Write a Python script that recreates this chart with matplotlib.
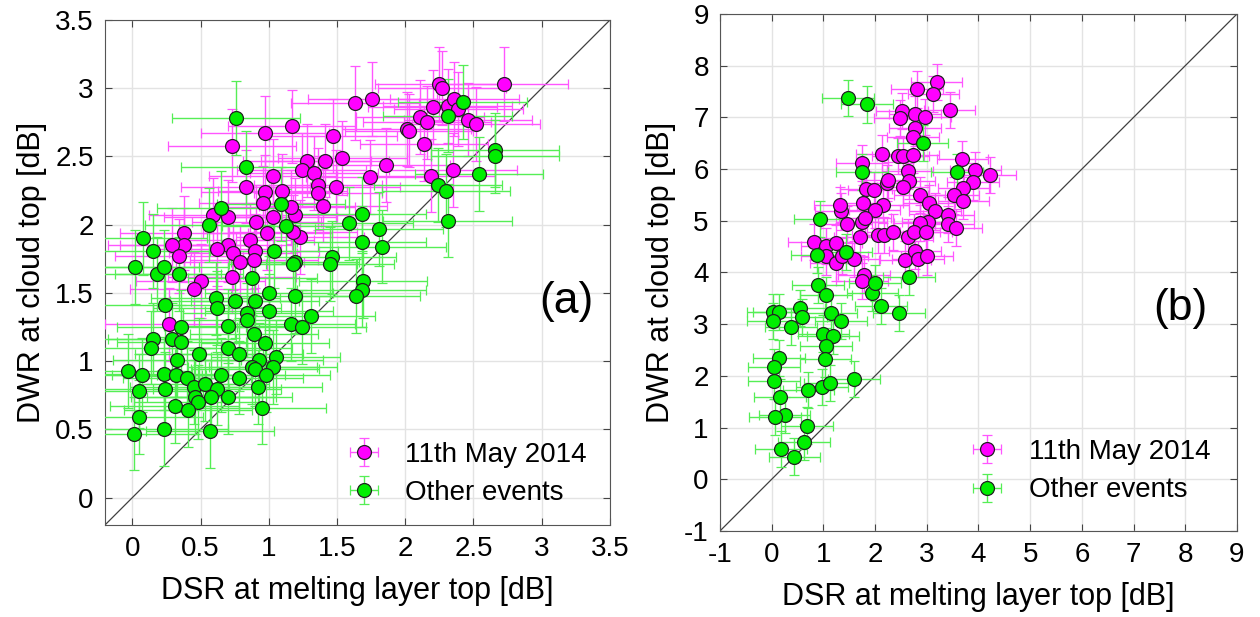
import numpy as np
import matplotlib.pyplot as plt

plt.rcParams['font.family'] = ['Liberation Sans', 'DejaVu Sans']

# panel (a): DSR vs DWR
a_may_x = [2.72, 2.25, 2.27, 1.63, 1.76, 2.20, 2.31, 2.36, 2.39, 2.46, 2.52, 2.11, 2.16, 2.01, 2.03,
           2.14, 1.86, 1.74, 2.19, 2.35, 1.54,
           0.73, 0.97, 1.17, 1.47, 1.41, 1.28, 1.24, 1.33, 1.36, 1.36, 1.49, 1.40, 1.03, 0.83, 0.97,
           1.10, 0.96, 1.03, 1.19, 1.16, 0.91, 0.99, 0.70, 0.59, 1.23, 1.18, 0.86, 0.90, 0.89, 0.70,
           0.74, 0.62, 0.79, 0.73, 0.38, 0.38, 0.29, 0.34, 0.50, 0.45, 0.27]
a_may_y = [3.03, 3.03, 3.00, 2.89, 2.92, 2.86, 2.87, 2.92, 2.85, 2.77, 2.74, 2.79, 2.75, 2.70, 2.69,
           2.59, 2.44, 2.35, 2.36, 2.40, 2.49,
           2.58, 2.67, 2.72, 2.65, 2.47, 2.47, 2.40, 2.38, 2.29, 2.23, 2.28, 2.14, 2.36, 2.28, 2.24,
           2.25, 2.16, 2.06, 2.07, 2.13, 2.02, 1.94, 2.06, 2.07, 1.91, 1.95, 1.89, 1.81, 1.74, 1.85,
           1.79, 1.82, 1.73, 1.62, 1.94, 1.85, 1.85, 1.77, 1.59, 1.53, 1.27]
a_oth_x = [2.42, 2.31, 2.66, 2.66, 2.54, 2.24, 2.30, 2.31, 1.68, 1.59, 1.81, 1.68, 1.83, 1.69, 1.68, 1.64,
           0.76, 0.83, 0.65, 0.56, 1.09, 1.13, 1.04, 1.19, 1.18, 0.08, 0.15, 0.02, 0.18, 0.23, 0.34,
           1.46, 1.45, 0.88,
           1.00, 1.19, 0.61, 0.62, 0.75, 0.90, 1.00, 0.24, 0.84, 0.84, 0.70, 1.16, 1.24, 1.31, 0.36,
           0.15, 0.14, 0.29, 0.36, 0.89, 0.97, 0.70, 0.78, 0.49, 0.33, 1.05, 0.93, 0.88, 0.90, 1.03,
           0.98, -0.03, 0.07, 0.23, 0.32, 0.40, 0.45, 0.53, 0.62, 0.65, 0.78, 0.46, 0.48, 0.58, 0.70,
           0.92, 0.05, 0.24, 0.31, 0.41, 0.05, 0.95, 0.01, 0.23, 0.57]
a_oth_y = [2.90, 2.80, 2.55, 2.50, 2.37, 2.29, 2.25, 2.03, 2.08, 2.01, 1.97, 1.87, 1.84, 1.59, 1.52, 1.48,
           2.78, 2.42, 2.12, 2.00, 2.15, 1.99, 1.81, 1.73, 1.71, 1.90, 1.81, 1.69, 1.64, 1.69, 1.64,
           1.76, 1.71, 1.61,
           1.50, 1.48, 1.46, 1.39, 1.44, 1.44, 1.37, 1.41, 1.35, 1.30, 1.26, 1.27, 1.25, 1.33, 1.25,
           1.16, 1.10, 1.16, 1.14, 1.20, 1.13, 1.10, 1.05, 1.05, 1.01, 1.03, 1.01, 0.96, 0.94, 0.96,
           0.90, 0.93, 0.90, 0.91, 0.90, 0.88, 0.81, 0.83, 0.80, 0.90, 0.88, 0.74, 0.70, 0.74, 0.74,
           0.81, 0.78, 0.80, 0.67, 0.64, 0.59, 0.66, 0.47, 0.50, 0.49]

# panel (b)
b_may_x = [3.19, 2.81, 3.13, 3.44, 2.52, 2.48, 2.77, 2.97, 2.77, 2.74, 2.13, 2.45, 2.54, 2.74, 1.75,
           3.69, 3.94, 3.90, 3.71, 3.52, 3.71, 2.63, 2.66, 2.54, 2.23, 2.26, 2.86, 1.83, 1.98, 1.76,
           2.16, 1.99, 1.34, 1.32, 3.05, 3.16, 3.42, 3.02, 2.86, 3.41, 3.57, 1.45, 1.74, 1.81, 1.70,
           2.05, 2.17, 2.35, 2.63, 2.76, 2.99, 0.82, 1.06, 1.25, 1.06, 1.25, 1.37, 1.60, 2.58, 2.77,
           2.83, 3.00, 1.78, 1.75, 4.23]
b_may_y = [7.68, 7.54, 7.46, 7.15, 7.13, 6.99, 7.07, 7.00, 6.79, 6.62, 6.30, 6.26, 6.25, 6.28, 6.12,
           6.20, 5.99, 5.76, 5.63, 5.49, 5.39, 5.97, 5.77, 5.66, 5.73, 5.79, 5.50, 5.61, 5.60, 5.35,
           5.31, 5.21, 5.18, 5.30, 5.35, 5.18, 5.12, 4.97, 4.96, 4.94, 4.87, 4.94, 4.97, 5.05, 4.68,
           4.73, 4.73, 4.78, 4.68, 4.78, 4.78, 4.59, 4.52, 4.57, 4.31, 4.18, 4.32, 4.26, 4.25, 4.41,
           4.26, 4.31, 3.95, 3.83, 5.88]
b_oth_x = [1.47, 1.84, 2.92, 1.75, 3.59, 0.94, 0.87, 1.44,
           0.89, 1.05, 1.95, 2.12, 2.46, 2.00, 2.66, 0.03, 0.14, 0.03, 0.54, 0.58, 0.37, 1.15, 1.34,
           1.00, 1.19, 1.05, 1.04, 0.14, 0.05, 0.05, 0.16, 0.71, 0.97, 1.12, 1.59, 0.25, 0.06, 0.69,
           0.63, 0.18, 0.44]
b_oth_y = [7.37, 7.25, 6.50, 5.95, 5.95, 5.04, 4.34, 4.39,
           3.76, 3.57, 3.61, 3.35, 3.21, 3.80, 3.91, 3.24, 3.24, 3.06, 3.32, 3.13, 2.95, 3.21, 3.06,
           2.82, 2.78, 2.58, 2.33, 2.34, 2.17, 1.91, 1.59, 1.72, 1.79, 1.86, 1.94, 1.25, 1.20, 1.04,
           0.72, 0.58, 0.44]

# typical error bar half-widths
a_xerr, a_yerr = 0.47, 0.27
b_xerr, b_yerr = 0.5, 0.35

magenta = '#ff00ff'
green = '#00ee00'


def panel(ax, mx, my, ox, oy, xerr, yerr, lim, ticks, tag, tagpos, leg_anchor):
    ax.plot(lim, lim, color='#404040', lw=0.9, zorder=1)
    ax.errorbar(mx, my, xerr=xerr, yerr=yerr, fmt='o', ms=10, mfc=magenta, mec='#222222', mew=0.9,
                ecolor='#ff55ff', elinewidth=1, capsize=3.5, label='11th May 2014', zorder=3)
    ax.errorbar(ox, oy, xerr=xerr, yerr=yerr, fmt='o', ms=10, mfc=green, mec='#222222', mew=0.9,
                ecolor='#55ee55', elinewidth=1, capsize=3.5, label='Other events', zorder=3)
    ax.set_xlim(lim)
    ax.set_ylim(lim)
    ax.set_xticks(ticks)
    ax.set_yticks(ticks)
    ax.set_xticklabels([f'{t:g}' for t in ticks])
    ax.set_yticklabels([f'{t:g}' for t in ticks])
    ax.grid(True, color='#e3e3e3', lw=1)
    ax.set_axisbelow(True)
    ax.tick_params(direction='in', top=True, right=True, length=5, labelsize=20, color='#444444',
                   pad=8)
    for s in ax.spines.values():
        s.set_color('#555555')
    ax.set_xlabel('DSR at melting layer top [dB]', fontsize=22, labelpad=10)
    ax.set_ylabel('DWR at cloud top [dB]', fontsize=22, labelpad=6)
    ax.text(tagpos[0], tagpos[1], tag, fontsize=32, ha='center', va='center')
    ax.legend(loc='lower left', bbox_to_anchor=leg_anchor, frameon=False, fontsize=20,
              handletextpad=0.5, labelspacing=0.45)


fig = plt.figure(figsize=(12.6, 6.17), dpi=100)
ax1 = fig.add_axes([0.0833, 0.1491, 0.4008, 0.8185])
ax2 = fig.add_axes([0.5714, 0.1394, 0.4103, 0.8379])

panel(ax1, a_may_x, a_may_y, a_oth_x, a_oth_y, a_xerr, a_yerr, [-0.2, 3.5],
      [0, 0.5, 1, 1.5, 2, 2.5, 3, 3.5], '(a)', (3.18, 1.44), (0.408, -0.012))
panel(ax2, b_may_x, b_may_y, b_oth_x, b_oth_y, b_xerr, b_yerr, [-1, 9],
      list(range(-1, 10)), '(b)', (7.9, 3.3), (0.415, 0.005))

fig.savefig('out.png', dpi=100)
